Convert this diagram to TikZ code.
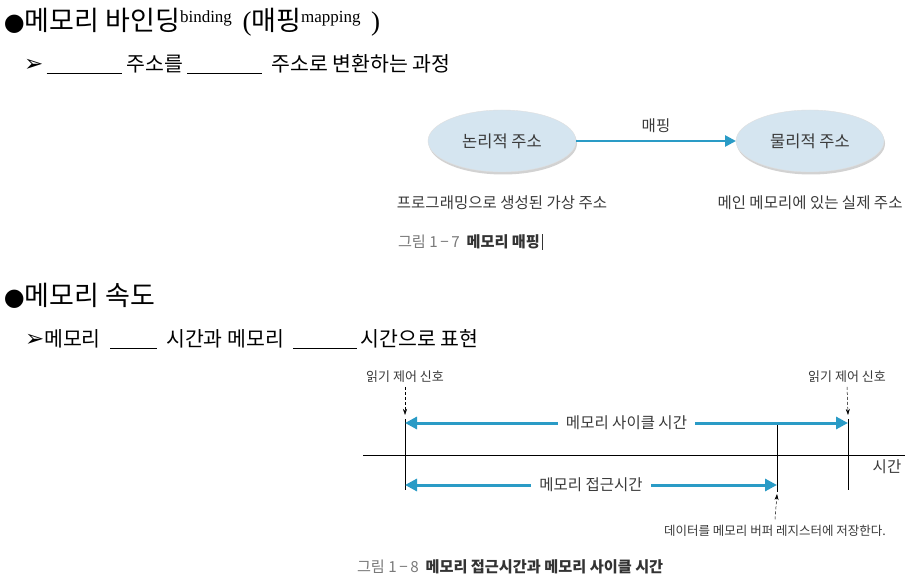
\documentclass[tikz,border=0pt]{standalone}
\usepackage{fontspec}
\setmainfont{Noto Sans CJK KR}
\newfontfamily\symfnt{DejaVu Sans}
\newfontfamily\latinfnt{Liberation Serif}
\usetikzlibrary{arrows.meta, positioning, shapes.geometric, shadows}
\definecolor{mapblue}{HTML}{2A9BC6}
\definecolor{ovalfill}{HTML}{D5E5F0}
\definecolor{capgray}{HTML}{7A7A7A}
\definecolor{captext}{HTML}{333333}
\definecolor{bodytext}{HTML}{3A3A3A}
\newcommand{\blankline}[1]{\rule[-2pt]{#1}{0.9pt}}

\begin{document}
\begin{tikzpicture}[
  x=1pt, y=-1pt,
  >=Stealth,
  every node/.style={inner sep=0pt, outer sep=0pt},
  head/.style={anchor=base west, font=\fontsize{27}{30}\selectfont},
  point/.style={anchor=base west, font=\fontsize{20.5}{24}\selectfont},
  addr/.style={ellipse, fill=ovalfill, draw=gray!25, minimum width=148pt, minimum height=62pt,
               drop shadow={shadow xshift=1pt, shadow yshift=-2.5pt, fill=gray!70},
               font=\fontsize{16.5}{18}\selectfont, text=bodytext},
  note/.style={font=\fontsize{15.5}{18}\selectfont, text=bodytext},
  small/.style={font=\fontsize{13}{15}\selectfont, text=bodytext},
  tiny/.style={font=\fontsize{12.5}{14}\selectfont, text=bodytext},
  figcap/.style={anchor=base west, font=\fontsize{15.2}{17}\selectfont, text=capgray},
  flow/.style={-{Triangle[length=11pt,width=11pt]}, line width=2.6pt, mapblue},
  span/.style={{Triangle[length=12pt,width=12pt]}-{Triangle[length=12pt,width=12pt]}, line width=3pt, mapblue},
  signal/.style={-{Stealth[length=6pt,width=4pt]}, densely dashed, line width=0.5pt},
  timeline/.style={line width=0.9pt}
]
  \path[fill=white, use as bounding box] (0,0) rectangle (916,577);

  % memory binding
  \node[head] (bindtitle) at (4,31) {{\symfnt\fontsize{24}{28}\selectfont ●}메모리 바인딩\raisebox{8pt}{\latinfnt\fontsize{17}{18}\selectfont binding}
    \,{\latinfnt(}매핑\raisebox{8pt}{\latinfnt\fontsize{17}{18}\selectfont mapping}\ \,{\latinfnt)}};
  \node[point] (bindtext) at (24,72) {{\symfnt\fontsize{23}{24}\selectfont ➢}\,\blankline{75pt} 주소를 \blankline{75pt}\ \ 주소로 변환하는 과정};

  \node[addr] (logical)  at (502,141) {논리적 주소};
  \node[addr] (physical) at (810,141) {물리적 주소};
  \draw[flow] (logical) -- node[above=8pt, note]{매핑} (physical);
  \node[note, below=24pt of logical]  (virt) {프로그래밍으로 생성된 가상 주소};
  \node[note, below=24pt of physical] (real) {메인 메모리에 있는 실제 주소};
  \node[figcap] (fig1) at (398,248) {그림 1\,−\,7\ \ {\bfseries\color{captext}메모리 매핑}\,{\color{captext}\rule[-2pt]{0.6pt}{16pt}}};

  % memory speed
  \node[head] (speedtitle) at (4,306) {{\symfnt\fontsize{24}{28}\selectfont ●}메모리 속도};
  \node[point] (speedtext) at (25,347) {{\symfnt\fontsize{23}{24}\selectfont ➢}메모리\ \ \blankline{47pt}\ \ 시간과 메모리\ \ \blankline{64pt}\,시간으로 표현};

  \node[small] (sigstart) at (405,377) {읽기 제어 신호};
  \node[small] (sigend)   at (847,377) {읽기 제어 신호};
  \coordinate (starttop) at (405,419);
  \coordinate (startbot) at (405,490);
  \coordinate (storetop) at (777,423);
  \coordinate (storebot) at (777,492);
  \coordinate (endtop)   at (848,419);
  \coordinate (endbot)   at (848,490);
  \coordinate (axisL) at (363,455);
  \coordinate (axisR) at (905,455);
  \node[note] (timelabel) at (887,467) {시간};

  \draw[signal] (sigstart.south) ++(0,4) -- (405,415);
  \draw[signal] (sigend.south) ++(0,4) -- (848,415);
  \draw[timeline] (starttop) -- (startbot);
  \draw[timeline] (storetop) -- (storebot);
  \draw[timeline] (endtop) -- (endbot);
  \draw[timeline] (axisL) -- (axisR);

  \draw[span] (405,423) -- node[fill=white, inner xsep=8pt, inner ysep=2pt, note]{메모리 사이클 시간} (848,423);
  \draw[span] (405,485) -- node[fill=white, inner xsep=8pt, inner ysep=2pt, note]{메모리 접근시간} (777,485);

  \node[tiny] (store) at (775,531) {데이터를 메모리 버퍼 레지스터에 저장한다.};
  \draw[signal] (store.north) ++(0,-6) -- (777,494);
  \node[figcap] (fig2) at (357,572) {그림 1\,−\,8\ \ {\bfseries\color{captext}메모리 접근시간과 메모리 사이클 시간}};
\end{tikzpicture}
\end{document}
